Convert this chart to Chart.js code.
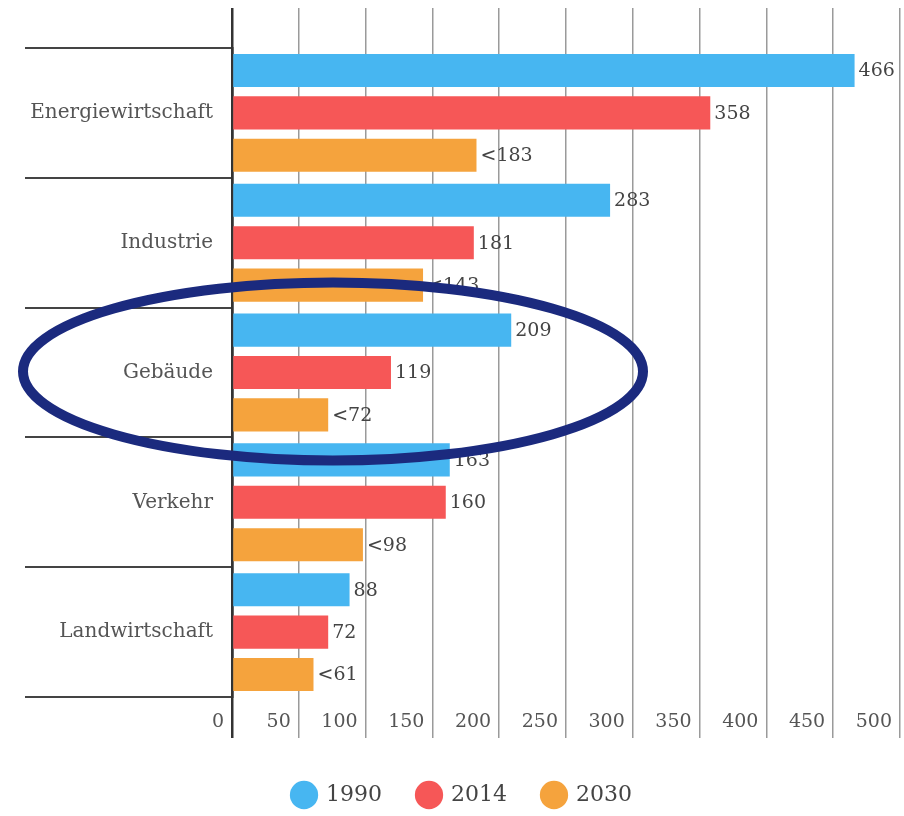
<!DOCTYPE html>
<html>
<head>
<meta charset="utf-8">
<script src="https://cdn.jsdelivr.net/npm/chart.js@4.4.1/dist/chart.umd.min.js"></script>
<style>
  html, body { margin: 0; padding: 0; background: #fff; }
</style>
</head>
<body>
<canvas id="chart" width="904" height="816"></canvas>
<script>
// Emissionen nach Sektor (Mio. t CO2-Äq.)
const categories = ['Energiewirtschaft', 'Industrie', 'Gebäude', 'Verkehr', 'Landwirtschaft'];
const seriesNames = ['1990', '2014', '2030'];
const values1990 = [466, 283, 209, 163, 88];
const values2014 = [358, 181, 119, 160, 72];
const values2030 = [183, 143, 72, 98, 61];
const labels1990 = ['466', '283', '209', '163', '88'];
const labels2014 = ['358', '181', '119', '160', '72'];
const labels2030 = ['<183', '<143', '<72', '<98', '<61'];
const xTickLabels = ['0', '50', '100', '150', '200', '250', '300', '350', '400', '450', '500'];

const FONT = '"DejaVu Serif", serif';
const barLabels = [labels1990, labels2014, labels2030];

// Werte rechts neben die Balken schreiben
const valueLabels = {
    id: 'valueLabels',
    afterDatasetsDraw(chart) {
        const ctx = chart.ctx;
        ctx.save();
        ctx.font = '19px ' + FONT;
        ctx.fillStyle = '#444';
        ctx.textAlign = 'left';
        ctx.textBaseline = 'middle';
        chart.data.datasets.forEach((ds, d) => {
            chart.getDatasetMeta(d).data.forEach((bar, i) => {
                ctx.fillText(barLabels[d][i], bar.x + 4, bar.y + 1);
            });
        });
        ctx.restore();
    }
};

// Markierung um "Gebäude"
const highlight = {
    id: 'highlight',
    afterDraw(chart) {
        const ctx = chart.ctx;
        const cy = chart.scales.y.getPixelForValue(2) - 1;
        const cx = chart.chartArea.left + 101;
        ctx.save();
        ctx.strokeStyle = '#1b2a7e';
        ctx.lineWidth = 10;
        ctx.beginPath();
        ctx.ellipse(cx, cy, 310, 89, 0, 0, Math.PI * 2);
        ctx.stroke();
        ctx.restore();
    }
};

const gridColor = c => (c.tick && c.tick.value === 0) ? '#333' : '#9a9a9a';
const gridWidth = c => (c.tick && c.tick.value === 0) ? 2.5 : 1.5;

new Chart(document.getElementById('chart').getContext('2d'), {
    type: 'bar',
    data: {
        labels: categories,
        datasets: [
            { label: seriesNames[0], data: values1990, backgroundColor: '#47b6f1' },
            { label: seriesNames[1], data: values2014, backgroundColor: '#f65757' },
            { label: seriesNames[2], data: values2030, backgroundColor: '#f5a33d' }
        ]
    },
    options: {
        responsive: false,
        animation: false,
        indexAxis: 'y',
        categoryPercentage: 0.98,
        barPercentage: 0.78,
        layout: { padding: { top: 8, left: 25, right: 4, bottom: 0 } },
        scales: {
            x: {
                min: 0,
                max: 500,
                position: 'bottom',
                afterFit: scale => { scale.height = 51; },
                border: { display: false },
                grid: {
                    color: gridColor,
                    lineWidth: gridWidth,
                    tickLength: 41
                },
                ticks: {
                    stepSize: 50,
                    autoSkip: false,
                    maxRotation: 0,
                    align: 'end',
                    labelOffset: -8,
                    padding: -27,
                    color: '#555',
                    font: { family: FONT, size: 19 },
                    callback: (v, i) => xTickLabels[i]
                }
            },
            x2: {
                type: 'linear',
                axis: 'x',
                min: 0,
                max: 500,
                position: 'top',
                border: { display: false },
                grid: {
                    drawOnChartArea: false,
                    color: gridColor,
                    lineWidth: gridWidth,
                    tickLength: 40
                },
                ticks: { stepSize: 50, display: false }
            },
            y: {
                afterFit: scale => { scale.width = 207; },
                border: { display: true, color: '#333', width: 2.5 },
                grid: {
                    offset: true,
                    drawOnChartArea: false,
                    color: '#444',
                    lineWidth: 2,
                    tickLength: 207
                },
                ticks: {
                    padding: -188,
                    color: '#555',
                    font: { family: FONT, size: 20 }
                }
            }
        },
        plugins: {
            legend: {
                position: 'bottom',
                labels: {
                    usePointStyle: true,
                    pointStyle: 'circle',
                    boxHeight: 20,
                    boxWidth: 22,
                    padding: 36,
                    color: '#444',
                    font: { family: FONT, size: 22 }
                }
            },
            tooltip: { enabled: false }
        }
    },
    plugins: [valueLabels, highlight]
});
</script>
</body>
</html>
